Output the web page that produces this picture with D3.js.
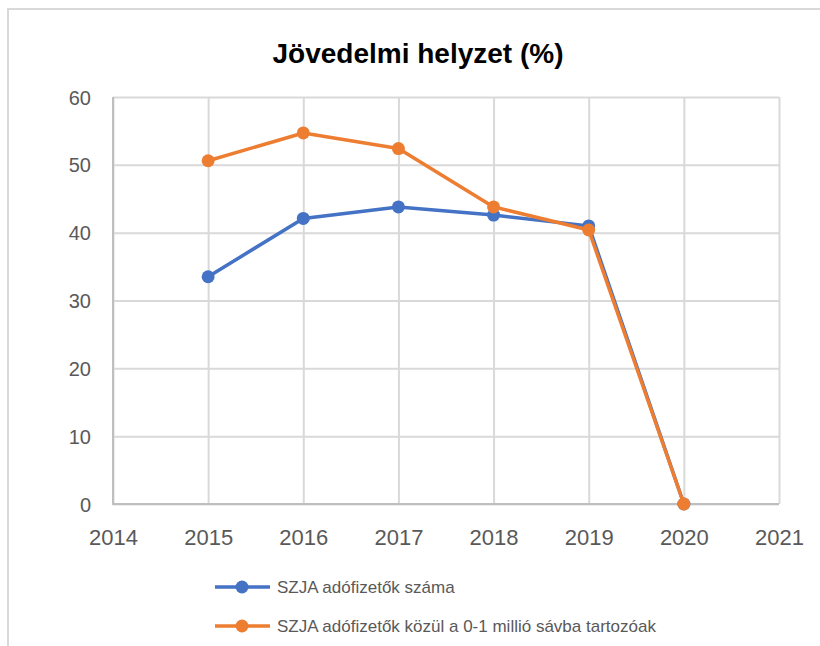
<!DOCTYPE html>
<meta charset="utf-8" />
<head>
  <script src="https://d3js.org/d3.v7.min.js"></script>
  <title>Jövedelmi helyzet</title>
  <style>
    body {
      margin: 0;
      background: #fff;
      font-family: "Liberation Sans", Arial, sans-serif;
    }
    .grid line {
      stroke: #d9d9d9;
      stroke-width: 2;
    }
    .grid path {
      display: none;
    }
    .axis path,
    .axis line {
      display: none;
    }
    .axis text {
      fill: #595959;
      font-family: "Liberation Sans", Arial, sans-serif;
    }
  </style>
</head>
<body>
  <svg id="chart" width="820" height="646"></svg>
</body>

<script>
  const years = [2015, 2016, 2017, 2018, 2019, 2020];
  const szjaFizetok = [33.5, 42.1, 43.8, 42.6, 41.0, 0];
  const savba01 = [50.6, 54.7, 52.4, 43.8, 40.4, 0];
  const seriesNames = [
    "SZJA adófizetők száma",
    "SZJA adófizetők közül a 0-1 millió sávba tartozóak",
  ];
  const xTicks = [2014, 2015, 2016, 2017, 2018, 2019, 2020, 2021];
  const yTicks = [0, 10, 20, 30, 40, 50, 60];

  const data = [
    { name: seriesNames[0], color: "#4472C4", values: years.map((y, i) => ({ year: y, v: szjaFizetok[i] })) },
    { name: seriesNames[1], color: "#ED7D31", values: years.map((y, i) => ({ year: y, v: savba01[i] })) },
  ];

  const svg = d3.select("#chart");
  const margin = { top: 97, left: 113, right: 779, bottom: 504 };

  // outer chart frame (cropped on right and bottom)
  svg
    .append("path")
    .attr("d", "M8,646 V9 H820")
    .attr("fill", "none")
    .attr("stroke", "#d9d9d9")
    .attr("stroke-width", 2);

  svg
    .append("text")
    .attr("x", 418)
    .attr("y", 63)
    .attr("text-anchor", "middle")
    .style("font-size", "28px")
    .style("font-weight", "bold")
    .style("fill", "#000")
    .text("Jövedelmi helyzet (%)");

  const x = d3.scaleLinear().domain([2014, 2021]).range([margin.left, margin.right]);
  const y = d3.scaleLinear().domain([0, 60]).range([margin.bottom, margin.top]);

  // gridlines
  svg
    .append("g")
    .attr("class", "grid")
    .attr("transform", `translate(0,${margin.bottom})`)
    .call(d3.axisBottom(x).tickValues(xTicks).tickSize(-(margin.bottom - margin.top)).tickFormat(""));

  svg
    .append("g")
    .attr("class", "grid")
    .attr("transform", `translate(${margin.left},0)`)
    .call(d3.axisLeft(y).tickValues(yTicks).tickSize(-(margin.right - margin.left)).tickFormat(""));

  // axis lines
  svg
    .append("path")
    .attr("d", `M${margin.left},${margin.top} V${margin.bottom} H${margin.right}`)
    .attr("fill", "none")
    .attr("stroke", "#bfbfbf")
    .attr("stroke-width", 2);

  svg
    .append("g")
    .attr("class", "axis")
    .attr("transform", `translate(0,${margin.bottom})`)
    .style("font-size", "22px")
    .call(d3.axisBottom(x).tickValues(xTicks).tickFormat(d3.format("d")).tickSize(0).tickPadding(25));

  svg
    .append("g")
    .attr("class", "axis")
    .attr("transform", `translate(${margin.left},0)`)
    .style("font-size", "20px")
    .call(d3.axisLeft(y).tickValues(yTicks).tickSize(0).tickPadding(22))
    .selectAll("text")
    .attr("dy", "0.35em");

  svg.selectAll(".axis text").style("font-size", null);

  const line = d3
    .line()
    .x((d) => x(d.year))
    .y((d) => y(d.v));

  const g = svg.append("g");
  data.forEach((s) => {
    g.append("path")
      .datum(s.values)
      .attr("fill", "none")
      .attr("stroke", s.color)
      .attr("stroke-width", 3.5)
      .attr("stroke-linejoin", "round")
      .attr("d", line);
    g.selectAll(null)
      .data(s.values)
      .enter()
      .append("circle")
      .attr("cx", (d) => x(d.year))
      .attr("cy", (d) => y(d.v))
      .attr("r", 6.5)
      .attr("fill", s.color);
  });

  // legend
  const legend = svg.append("g");
  data.forEach((s, i) => {
    const ly = 587 + i * 39;
    legend
      .append("line")
      .attr("x1", 215)
      .attr("x2", 270)
      .attr("y1", ly)
      .attr("y2", ly)
      .attr("stroke", s.color)
      .attr("stroke-width", 3.5);
    legend.append("circle").attr("cx", 242).attr("cy", ly).attr("r", 6.5).attr("fill", s.color);
    legend
      .append("text")
      .attr("x", 277)
      .attr("y", ly)
      .attr("dy", "0.35em")
      .style("font-size", "17px")
      .style("fill", "#595959")
      .text(s.name);
  });
</script>
